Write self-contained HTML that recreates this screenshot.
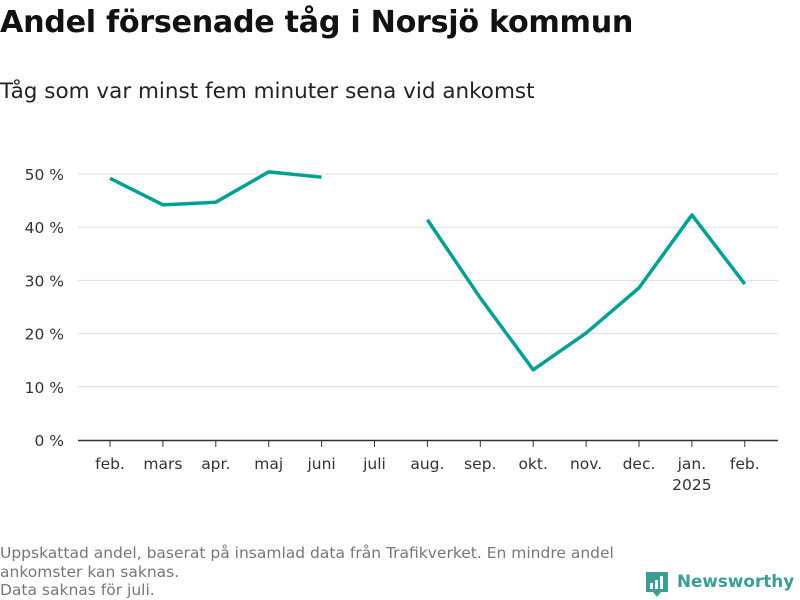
<!DOCTYPE html>
<html><head><meta charset="utf-8"><style>
body{margin:0;width:800px;height:600px;background:#fff;font-family:"DejaVu Sans","Liberation Sans",sans-serif;overflow:hidden;position:relative}
.t{position:absolute;white-space:nowrap}
</style></head><body>
<div class="t" style="left:0;top:5px;font-size:30.2px;font-weight:bold;color:#111;letter-spacing:-0.3px">Andel försenade tåg i Norsjö kommun</div>
<div class="t" style="left:0;top:79px;font-size:21.5px;color:#222">Tåg som var minst fem minuter sena vid ankomst</div>
<svg id="c" width="800" height="600" style="position:absolute;left:0;top:0" font-family="DejaVu Sans, sans-serif"></svg>
<div class="t" style="left:0;top:544px;font-size:15.5px;line-height:18.5px;color:#777">Uppskattad andel, baserat på insamlad data från Trafikverket. En mindre andel<br>ankomster kan saknas.<br>Data saknas för juli.</div>
<div class="t" style="left:645px;top:570px;height:28px">
<svg width="26" height="30" style="position:absolute;left:0;top:0"><path d="M1 2h22v20h-7l-4 5-4-5H1z" fill="#3a9e96"/><rect x="5" y="13" width="3" height="6" fill="#fff"/><rect x="10" y="10" width="3" height="9" fill="#fff"/><rect x="15" y="6" width="3" height="13" fill="#fff"/></svg>
<span style="position:absolute;left:32px;top:1px;font-size:16.8px;color:#3a9e96;font-weight:bold">Newsworthy</span></div>
<script>
const categories=["feb.","mars","apr.","maj","juni","juli","aug.","sep.","okt.","nov.","dec.","jan.","feb."];
const values=[49.2,44.2,44.7,50.4,49.4,null,41.4,26.7,13.2,20.1,28.6,42.3,29.3];
const yTicks=[0,10,20,30,40,50];
const ns="http://www.w3.org/2000/svg",svg=document.getElementById("c");
const x=i=>110+i*52.9, y=v=>440-v*5.32;
function mk(t,a,p){const e=document.createElementNS(ns,t);for(const k in a)e.setAttribute(k,a[k]);(p||svg).appendChild(e);return e;}
yTicks.forEach(v=>{
 if(v>0){const g=mk("line",{x1:78,x2:778,y1:y(v),y2:y(v),stroke:"#ddd","stroke-width":1});
 
 }
 const t=mk("text",{x:64,y:y(v)+6,"text-anchor":"end","font-size":15.5,fill:"#333"});t.textContent=v+" %";
 
 
});
const ax=mk("line",{x1:78,x2:778,y1:440.5,y2:440.5,stroke:"#333","stroke-width":1.5});


categories.forEach((c,i)=>{
 const tk=mk("line",{x1:x(i),x2:x(i),y1:441,y2:447,stroke:"#333"});
 
 
 const t=mk("text",{x:x(i),y:469,"text-anchor":"middle","font-size":15.5,fill:"#333"});t.textContent=c;
 
 
});
const yr=mk("text",{x:x(11),y:490,"text-anchor":"middle","font-size":15.5,fill:"#333"});yr.textContent="2025";


let d="",pen=false;
values.forEach((v,i)=>{if(v==null){pen=false;return;}d+=(pen?"L":"M")+x(i)+" "+y(v);pen=true;});
const p=mk("path",{d:d,fill:"none",stroke:"#00a096","stroke-width":3.5,"stroke-linejoin":"round"});


</script>
</body></html>
